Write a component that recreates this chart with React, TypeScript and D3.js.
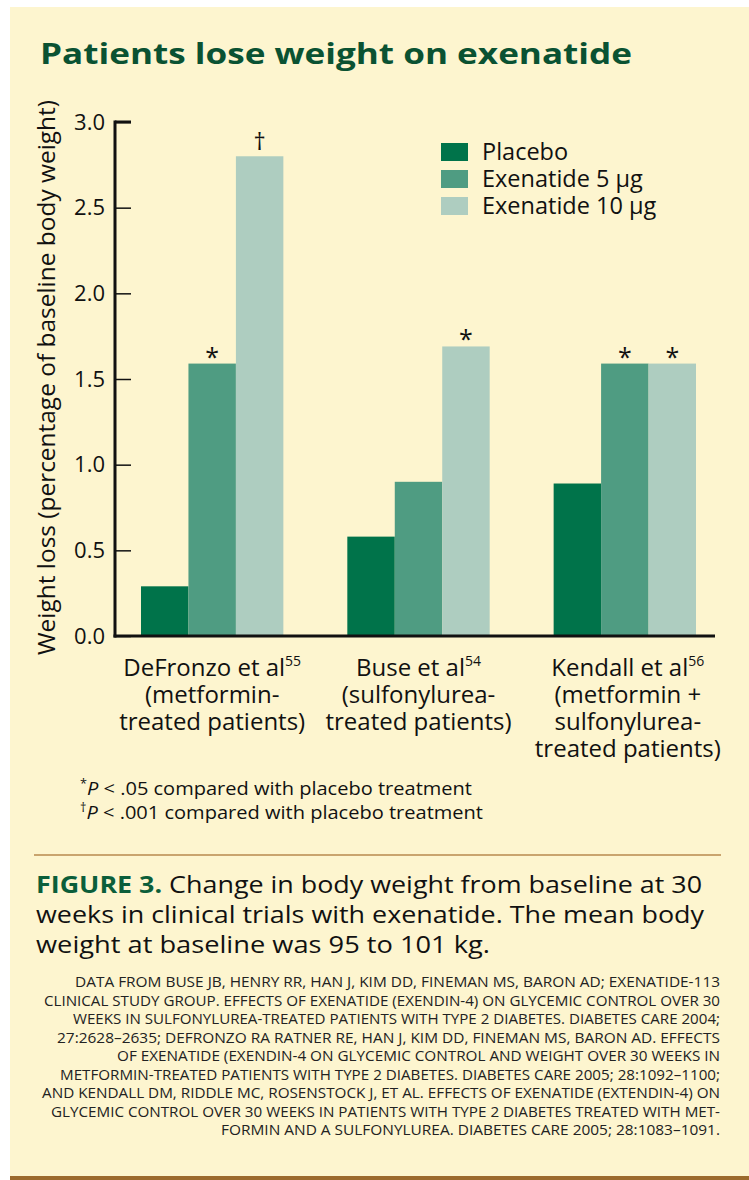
import React, { useEffect, useRef } from 'react';
import * as d3 from 'd3';

// data
const categories = ['DeFronzo et al', 'Buse et al', 'Kendall et al'];
const categoryRefs = ['55', '54', '56'];
const categorySub = [
  ['(metformin-', 'treated patients)'],
  ['(sulfonylurea-', 'treated patients)'],
  ['(metformin +', 'sulfonylurea-', 'treated patients)'],
];
const seriesNames = ['Placebo', 'Exenatide 5 \u03BCg', 'Exenatide 10 \u03BCg'];
const placebo = [0.29, 0.58, 0.89];
const exenatide5 = [1.59, 0.9, 1.59];
const exenatide10 = [2.8, 1.69, 1.59];
const marks5 = ['*', '', '*'];
const marks10 = ['\u2020', '*', '*'];
const yTicks = [0, 0.5, 1, 1.5, 2, 2.5, 3];

const captionLines = [
  'weeks in clinical trials with exenatide. The mean body',
  'weight at baseline was 95 to 101 kg.',
];
const sourceLines = [
  'DATA FROM BUSE JB, HENRY RR, HAN J, KIM DD, FINEMAN MS, BARON AD; EXENATIDE-113',
  'CLINICAL STUDY GROUP. EFFECTS OF EXENATIDE (EXENDIN-4) ON GLYCEMIC CONTROL OVER 30',
  'WEEKS IN SULFONYLUREA-TREATED PATIENTS WITH TYPE 2 DIABETES. DIABETES CARE 2004;',
  '27:2628\u20132635; DEFRONZO RA RATNER RE, HAN J, KIM DD, FINEMAN MS, BARON AD. EFFECTS',
  'OF EXENATIDE (EXENDIN-4 ON GLYCEMIC CONTROL AND WEIGHT OVER 30 WEEKS IN',
  'METFORMIN-TREATED PATIENTS WITH TYPE 2 DIABETES. DIABETES CARE 2005; 28:1092\u20131100;',
  'AND KENDALL DM, RIDDLE MC, ROSENSTOCK J, ET AL. EFFECTS OF EXENATIDE (EXTENDIN-4) ON',
  'GLYCEMIC CONTROL OVER 30 WEEKS IN PATIENTS WITH TYPE 2 DIABETES TREATED WITH MET-',
  'FORMIN AND A SULFONYLUREA. DIABETES CARE 2005; 28:1083\u20131091.',
];
const sourceStarts = [75, 44, 73, 57, 117, 60, 42, 51, 221];

const FONT = '"Open Sans", "Noto Sans", sans-serif';
const colors = ['#00734a', '#4f9c82', '#aecdc0'];

export default function App() {
  const ref = useRef<SVGSVGElement>(null);

  useEffect(() => {
    document.body.style.margin = '0';
    const W = 749, H = 1180;
    const svg = d3.select(ref.current).attr('width', W).attr('height', H);
    svg.selectAll('*').remove();
    svg.style('font-family', FONT);

    // panel
    svg.append('rect').attr('width', W).attr('height', H).attr('fill', '#ffffff');
    svg.append('rect').attr('x', 10).attr('y', 7).attr('width', W - 10).attr('height', 1170).attr('fill', '#fdf5cf');
    svg.append('rect').attr('x', 10).attr('y', 1176).attr('width', W - 10).attr('height', 4).attr('fill', '#9b6a2c');

    // title
    svg.append('text')
      .attr('x', 40).attr('y', 64)
      .attr('font-size', 29).attr('font-weight', 700).attr('fill', '#0a5232')
      .attr('textLength', 592).attr('lengthAdjust', 'spacingAndGlyphs')
      .text('Patients lose weight on exenatide');

    // scales
    const x0 = 115, x1 = 715, yBase = 636, yTop = 122;
    const x = d3.scaleBand<string>()
      .domain(categories)
      .range([x0, 722])
      .paddingInner(0.31)
      .paddingOuter(0.126);
    const xs = d3.scaleBand<number>()
      .domain([0, 1, 2])
      .range([0, x.bandwidth()]);
    const y = d3.scaleLinear().domain([0, 3]).range([yBase, yTop]);

    const series = [placebo, exenatide5, exenatide10];
    const g = svg.append('g');
    series.forEach((vals, si) => {
      g.append('g').selectAll('rect')
        .data(vals)
        .enter()
          .append('rect')
          .attr('fill', colors[si])
          .attr('x', (d, i) => (x(categories[i]) as number) + (xs(si) as number))
          .attr('width', xs.bandwidth())
          .attr('y', d => y(d))
          .attr('height', d => yBase - y(d));
    });

    // significance marks
    const markSets = [null, marks5, marks10];
    markSets.forEach((marks, si) => {
      if (!marks) return;
      marks.forEach((m, i) => {
        if (!m) return;
        const cx = (x(categories[i]) as number) + (xs(si) as number) + xs.bandwidth() / 2;
        const v = series[si][i];
        svg.append('text')
          .attr('x', cx)
          .attr('y', m === '*' ? y(v) + 2 : y(v) - 6)
          .attr('text-anchor', 'middle')
          .attr('font-size', m === '*' ? 25 : 24)
          .attr('fill', '#111')
          .text(m);
      });
    });

    // y axis
    const yAxis = d3.axisLeft(y)
      .tickValues(yTicks)
      .tickFormat(d3.format('.1f'))
      .tickSize(-16)
      .tickSizeOuter(0)
      .tickPadding(10);
    const ya = svg.append('g').attr('transform', `translate(${x0},0)`).call(yAxis);
    ya.select('.domain').remove();
    ya.selectAll('line').attr('stroke', '#111').attr('stroke-width', 1.5);
    ya.selectAll('text').attr('font-size', 22).attr('font-family', FONT).attr('fill', '#111');
    ya.append('line').attr('x1', 0).attr('x2', 0).attr('y1', yTop - 1.5).attr('y2', yBase + 1.5)
      .attr('stroke', '#111').attr('stroke-width', 3);
    ya.append('line').attr('x1', 0).attr('x2', 16).attr('y1', yTop).attr('y2', yTop)
      .attr('stroke', '#111').attr('stroke-width', 3);

    // x axis line
    svg.append('line').attr('x1', x0 - 1.5).attr('x2', x1).attr('y1', yBase).attr('y2', yBase)
      .attr('stroke', '#111').attr('stroke-width', 3);

    // y title
    svg.append('text')
      .attr('transform', `translate(55,${(100 + 655) / 2}) rotate(-90)`)
      .attr('text-anchor', 'middle')
      .attr('font-size', 23).attr('fill', '#111')
      .attr('textLength', 555).attr('lengthAdjust', 'spacingAndGlyphs')
      .text('Weight loss (percentage of baseline body weight)');

    // category labels
    categories.forEach((c, i) => {
      const cx = (x(c) as number) + x.bandwidth() / 2 + (i === 2 ? 3 : 0);
      const t = svg.append('text')
        .attr('x', cx).attr('y', 676)
        .attr('text-anchor', 'middle').attr('font-size', 24).attr('fill', '#111');
      t.append('tspan').text(c);
      t.append('tspan').attr('font-size', 14).attr('dy', -10).text(categoryRefs[i]);
      categorySub[i].forEach((line, li) => {
        svg.append('text')
          .attr('x', cx).attr('y', 703 + li * 27)
          .attr('text-anchor', 'middle').attr('font-size', 24).attr('fill', '#111')
          .text(line);
      });
    });

    // legend
    seriesNames.forEach((name, i) => {
      const ly = 143 + i * 27;
      svg.append('rect').attr('x', 441).attr('y', ly).attr('width', 27).attr('height', 18).attr('fill', colors[i]);
      svg.append('text').attr('x', 482).attr('y', ly + 17)
        .attr('font-size', 23.5).attr('fill', '#111').text(name);
    });

    // footnotes
    const fn = [
      { sym: '*', p: '.05', w: 392, yy: 795 },
      { sym: '\u2020', p: '.001', w: 403, yy: 819 },
    ];
    fn.forEach(f => {
      const t = svg.append('text').attr('x', 80).attr('y', f.yy)
        .attr('font-size', 19).attr('fill', '#111')
        .attr('textLength', f.w).attr('lengthAdjust', 'spacingAndGlyphs');
      t.append('tspan').attr('font-size', 12).attr('dy', -7).text(f.sym);
      t.append('tspan').attr('dy', 7).attr('font-style', 'italic').text('P');
      t.append('tspan').text(` < ${f.p} compared with placebo treatment`);
    });

    // separator
    svg.append('line').attr('x1', 34).attr('x2', 721).attr('y1', 855).attr('y2', 855)
      .attr('stroke', '#c9a46e').attr('stroke-width', 2);

    // caption
    const cap = svg.append('text').attr('x', 36).attr('y', 893)
      .attr('font-size', 24).attr('fill', '#111')
      .attr('textLength', 666).attr('lengthAdjust', 'spacingAndGlyphs');
    cap.append('tspan').attr('fill', '#0b5e3a').attr('font-weight', 700).text('FIGURE 3.');
    cap.append('tspan').text(' Change in body weight from baseline at 30');
    const capW = [668, 454];
    captionLines.forEach((line, i) => {
      svg.append('text').attr('x', 36).attr('y', 923 + i * 30)
        .attr('font-size', 24).attr('fill', '#111')
        .attr('textLength', capW[i]).attr('lengthAdjust', 'spacingAndGlyphs')
        .text(line);
    });

    // source note
    sourceLines.forEach((line, i) => {
      svg.append('text').attr('x', sourceStarts[i]).attr('y', 987 + i * 18.5)
        .attr('font-size', 15).attr('fill', '#222')
        .attr('textLength', 720 - sourceStarts[i]).attr('lengthAdjust', 'spacingAndGlyphs')
        .text(line);
    });
  }, []);

  return (
    <div>
      <svg ref={ref}></svg>
    </div>
  );
}
